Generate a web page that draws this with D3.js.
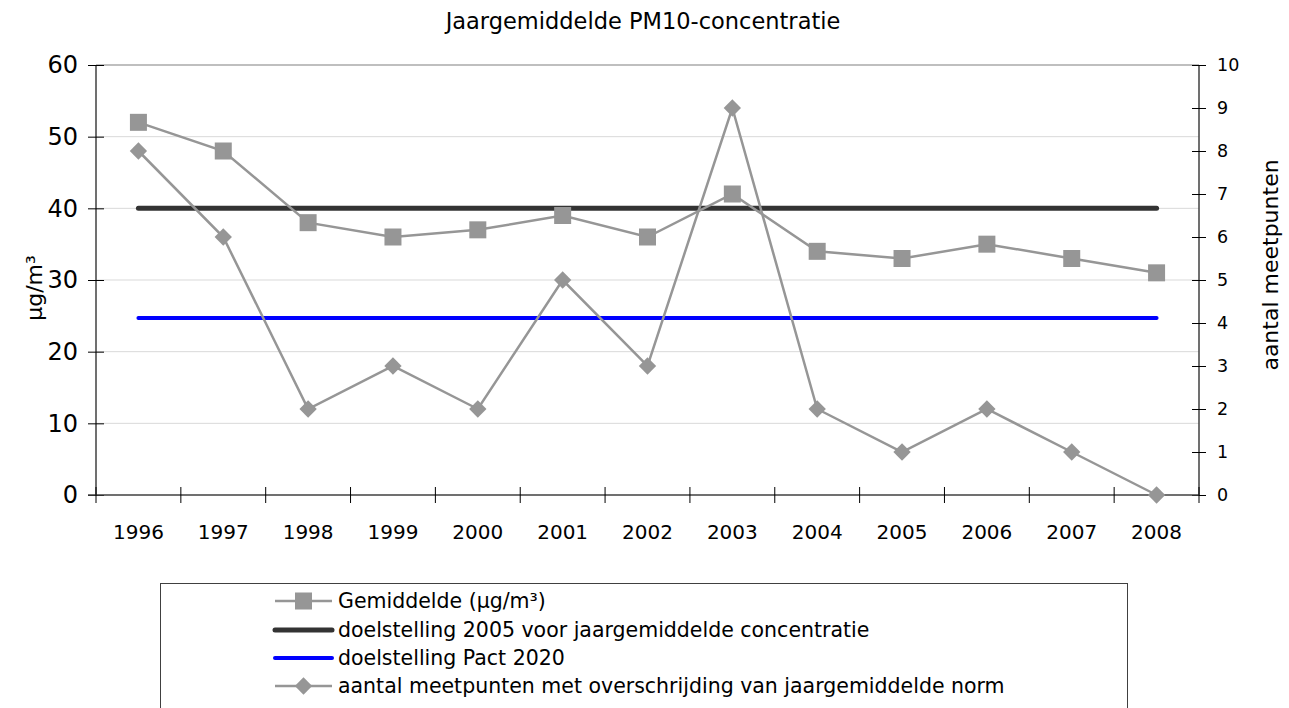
<!DOCTYPE html>
<html><head><meta charset="utf-8">
<script src="https://cdn.jsdelivr.net/npm/d3@7"></script>
<style>body{margin:0;background:#fff}svg{display:block;font-family:Tahoma,"DejaVu Sans",sans-serif}</style>
</head><body>
<svg id="c" width="1289" height="708"></svg>
<script>
const years = ["1996","1997","1998","1999","2000","2001","2002","2003","2004","2005","2006","2007","2008"];
const gemiddelde = [52,48,38,36,37,39,36,42,34,33,35,33,31];
const aantal = [8,6,2,3,2,5,3,9,2,1,2,1,0];
const doel2005 = 40;
const pact2020 = 24.7;
const leftTicks = [0,10,20,30,40,50,60];
const rightTicks = [0,1,2,3,4,5,6,7,8,9,10];
const legendLabels = ["Gemiddelde (µg/m³)","doelstelling 2005 voor jaargemiddelde concentratie","doelstelling Pact 2020","aantal meetpunten met overschrijding van jaargemiddelde norm"];

const FF='Tahoma,"DejaVu Sans",sans-serif';
const svg = d3.select("#c");
const L=96,R=1199,T=65,B=495;
const x = d3.scaleBand().domain(years).range([L,R]).padding(0);
const yL = d3.scaleLinear().domain([0,60]).range([B,T]);
const yR = d3.scaleLinear().domain([0,10]).range([B,T]);
const cx = d=>x(d)+x.bandwidth()/2;

// title
svg.append("text").attr("x",643).attr("y",29).attr("text-anchor","middle").attr("font-size",22.5).attr("fill","#000").text("Jaargemiddelde PM10-concentratie");

// gridlines
svg.append("g").selectAll("line").data(leftTicks.filter(t=>t>0)).join("line")
  .attr("x1",L).attr("x2",R).attr("y1",d=>yL(d)).attr("y2",d=>yL(d))
  .attr("stroke",d=>d===60?"#bfbfbf":"#d9d9d9").attr("stroke-width",d=>d===60?2:1);

// left axis
const gl = svg.append("g").attr("transform",`translate(${L},0)`)
  .call(d3.axisLeft(yL).tickValues(leftTicks).tickSize(8).tickPadding(10));
gl.selectAll(".tick line").attr("x2",-8).attr("x1",8).attr("stroke","#000");
gl.select(".domain").attr("stroke","#404040").attr("stroke-width",1.5).attr("d",`M0,${T}V${B}`);
gl.selectAll("text").attr("font-size",24).attr("font-family",FF).attr("fill","#000").attr("x",-18);

// right axis
const gr = svg.append("g").attr("transform",`translate(${R},0)`)
  .call(d3.axisRight(yR).tickValues(rightTicks).tickSize(7).tickPadding(10));
gr.selectAll(".tick line").attr("x1",-7).attr("x2",7).attr("stroke","#000");
gr.select(".domain").attr("stroke","#404040").attr("stroke-width",1.5).attr("d",`M0,${T}V${B}`);
gr.selectAll("text").attr("font-size",17.5).attr("font-family",FF).attr("fill","#000").attr("x",18);

// bottom axis
const gb = svg.append("g").attr("transform",`translate(0,${B})`);
gb.append("line").attr("x1",L-8).attr("x2",R).attr("y1",0).attr("y2",0).attr("stroke","#404040").attr("stroke-width",1.5);
gb.selectAll("line.t").data(years.concat(["end"])).join("line").attr("class","t")
  .attr("x1",(d,i)=>i<years.length?x(d):R).attr("x2",(d,i)=>i<years.length?x(d):R)
  .attr("y1",-8).attr("y2",8).attr("stroke","#000");
gb.selectAll("text").data(years).join("text").attr("x",cx).attr("y",44).attr("text-anchor","middle")
  .attr("font-size",20).attr("fill","#000").text(d=>d);

// axis titles
svg.append("text").attr("transform","translate(42,288) rotate(-90)").attr("text-anchor","middle").attr("font-size",22).text("µg/m³");
svg.append("text").attr("transform","translate(1278,265) rotate(-90)").attr("text-anchor","middle").attr("font-size",22).text("aantal meetpunten");

// target lines
svg.append("line").attr("x1",cx(years[0])).attr("x2",cx(years[years.length-1])).attr("y1",yL(doel2005)).attr("y2",yL(doel2005))
  .attr("stroke","#333333").attr("stroke-width",5).attr("stroke-linecap","round");
svg.append("line").attr("x1",cx(years[0])).attr("x2",cx(years[years.length-1])).attr("y1",yL(pact2020)).attr("y2",yL(pact2020))
  .attr("stroke","#0000ff").attr("stroke-width",4).attr("stroke-linecap","round");

const gray="#969696";
// gemiddelde
svg.append("path").datum(gemiddelde).attr("fill","none").attr("stroke",gray).attr("stroke-width",2.5)
  .attr("d",d3.line().x((d,i)=>cx(years[i])).y(d=>yL(d)));
svg.append("g").selectAll("rect").data(gemiddelde).join("rect")
  .attr("x",(d,i)=>cx(years[i])-8.5).attr("y",d=>yL(d)-8.5).attr("width",17).attr("height",17).attr("fill",gray);

// aantal
svg.append("path").datum(aantal).attr("fill","none").attr("stroke",gray).attr("stroke-width",2.5)
  .attr("d",d3.line().x((d,i)=>cx(years[i])).y(d=>yR(d)));
const dia = d3.symbol().type(d3.symbolSquare).size(150);
svg.append("g").selectAll("path").data(aantal).join("path")
  .attr("d",dia).attr("transform",(d,i)=>`translate(${cx(years[i])},${yR(d)}) rotate(45)`).attr("fill",gray);

// legend
const lg = svg.append("g");
lg.append("rect").attr("x",160.5).attr("y",583.5).attr("width",967).attr("height",140).attr("fill","#fff").attr("stroke","#404040").attr("stroke-width",1);
const rowsY=[601,630,658,686];
const sx1=275,sx2=332;
legendLabels.forEach((lab,i)=>{
  const y=rowsY[i];
  if(i===0||i===3){
    lg.append("line").attr("x1",sx1).attr("x2",sx2).attr("y1",y).attr("y2",y).attr("stroke",gray).attr("stroke-width",2.5);
    if(i===0) lg.append("rect").attr("x",(sx1+sx2)/2-8.5).attr("y",y-8.5).attr("width",17).attr("height",17).attr("fill",gray);
    else lg.append("path").attr("d",dia).attr("transform",`translate(${(sx1+sx2)/2},${y}) rotate(45)`).attr("fill",gray);
  } else {
    lg.append("line").attr("x1",sx1).attr("x2",sx2).attr("y1",y).attr("y2",y).attr("stroke",i===1?"#333333":"#0000ff").attr("stroke-width",i===1?5:4).attr("stroke-linecap","round");
  }
  lg.append("text").attr("x",338).attr("y",y+7).attr("font-size",20.5).attr("fill","#000").text(lab);
});
</script>
</body></html>
